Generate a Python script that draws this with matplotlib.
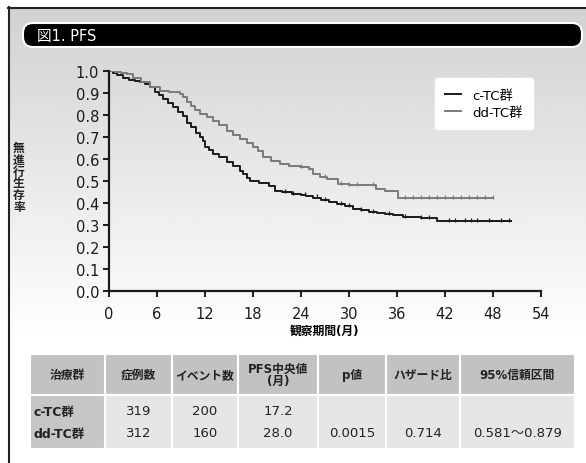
import numpy as np
import matplotlib.pyplot as plt
from matplotlib.patches import FancyBboxPatch, Rectangle

plt.rcParams['font.family'] = ['DejaVu Sans', 'Noto Sans CJK JP']

# c-TC群 (time in months, PFS rate)
c_time = [0, 0.5, 1, 1.8, 2.5, 3.2, 3.9, 4.5, 5.1, 5.7, 6.3, 6.8, 7.4, 8.0, 8.6, 9.3,
          9.7, 10.2, 10.9, 11.4, 11.8, 12.0, 12.5, 13.0, 13.8, 14.7, 15.5, 16.4, 16.8,
          17.2, 17.6, 18.8, 20.0, 20.8, 21.6, 22.9, 24.0, 24.6, 25.5, 26.5, 27.5, 28.5,
          29.5, 30.5, 31.5, 32.5, 33.5, 34.5, 35.5, 36.8, 39.0, 41.0, 50.3]
c_surv = [1.0, 0.99, 0.98, 0.97, 0.96, 0.955, 0.948, 0.94, 0.926, 0.903, 0.89, 0.873,
          0.855, 0.835, 0.815, 0.797, 0.765, 0.745, 0.72, 0.70, 0.683, 0.653, 0.64, 0.623,
          0.61, 0.585, 0.567, 0.547, 0.53, 0.515, 0.50, 0.49, 0.479, 0.456, 0.45, 0.441,
          0.435, 0.433, 0.425, 0.415, 0.405, 0.395, 0.385, 0.375, 0.368, 0.36, 0.355,
          0.35, 0.345, 0.336, 0.33, 0.317, 0.317]
c_cens = [22, 23, 24.5, 26, 27, 29, 30, 31.5, 33, 35, 37, 39, 40, 42.5, 43.2, 44.5,
          45.2, 46, 47.5, 49, 50]

# dd-TC群
d_time = [0, 0.8, 1.5, 2.2, 3.0, 4.0, 5.1, 6.4, 7.5, 8.9, 9.3, 9.7, 10.3, 10.8, 11.4,
          12.2, 13.0, 13.8, 14.7, 15.5, 16.4, 17.2, 18.0, 18.6, 19.3, 20.3, 21.4, 22.5,
          23.9, 25.0, 25.5, 26.4, 27.2, 28.6, 30.0, 32.6, 33.4, 34.5, 36.1, 48.0]
d_surv = [1.0, 0.995, 0.99, 0.985, 0.97, 0.95, 0.926, 0.91, 0.905, 0.895, 0.88, 0.858,
          0.84, 0.825, 0.805, 0.79, 0.774, 0.755, 0.729, 0.71, 0.69, 0.675, 0.655, 0.635,
          0.61, 0.59, 0.577, 0.57, 0.564, 0.555, 0.53, 0.518, 0.51, 0.486, 0.483, 0.48,
          0.464, 0.455, 0.423, 0.423]
d_cens = [24, 25, 27, 29, 30, 31, 33, 37, 38, 39, 40, 41, 42, 43, 44, 45, 46, 47, 48]

x_ticks = [0, 6, 12, 18, 24, 30, 36, 42, 48, 54]
y_ticks = [0.0, 0.1, 0.2, 0.3, 0.4, 0.5, 0.6, 0.7, 0.8, 0.9, 1.0]

# table
col_headers = ['治療群', '症例数', 'イベント数', 'PFS中央値\n(月)', 'p値', 'ハザード比', '95%信頼区間']
row_ctc = ['c-TC群', '319', '200', '17.2', '', '', '']
row_ddtc = ['dd-TC群', '312', '160', '28.0', '0.0015', '0.714', '0.581〜0.879']
col_edges = [30, 105, 172, 238, 318, 386, 460, 575]

W, H = 586, 464
INK = '#1a1a1a'
fig = plt.figure(figsize=(W / 100, H / 100), dpi=100)

# background / decoration layer in pixel coordinates
bg = fig.add_axes([0, 0, 1, 1])
bg.set_xlim(0, W)
bg.set_ylim(H, 0)
bg.axis('off')
grad = np.concatenate([np.linspace(0.82, 1.0, 200), np.ones(40)])
bg.imshow(grad[:, None], cmap='gray', vmin=0, vmax=1, aspect='auto',
          extent=[8, W, 8 + 240 * 330 / 200, 8], zorder=0)
bg.add_patch(Rectangle((8, 338), W, H, color='white', zorder=0.5))
bg.plot([8.5, 8.5], [8, H], color='#222222', lw=1.5, zorder=1)
bg.plot([8, W], [8.5, 8.5], color='#222222', lw=1.5, zorder=1)

title_bar = FancyBboxPatch((23, 24), 559, 24, boxstyle='round,pad=0,rounding_size=10',
                           facecolor='black', edgecolor='white', lw=1.5, zorder=2)
bg.add_patch(title_bar)
bg.text(37, 36.5, '図1. PFS', color='white', fontsize=10.5, va='center', ha='left', zorder=3)

# y label stacked vertically
bg.text(19, 178, '無\n進\n行\n生\n存\n率', fontsize=8.5, fontweight='bold', ha='center',
        va='center', linespacing=0.9, color='#222222')

# table
header_top, header_bot, row_bot = 355, 396, 450
for i in range(len(col_headers)):
    x0, x1 = col_edges[i], col_edges[i + 1]
    bg.add_patch(Rectangle((x0, header_top), x1 - x0, header_bot - header_top,
                           facecolor='#c2c2c2', edgecolor='white', lw=1.5, zorder=2))
    fc = '#c6c6c6' if i == 0 else '#e6e6e6'
    bg.add_patch(Rectangle((x0, header_bot), x1 - x0, row_bot - header_bot,
                           facecolor=fc, edgecolor='white', lw=1.5, zorder=2))
    xc = (x0 + x1) / 2
    bg.text(xc, 375.5, col_headers[i], fontsize=8.5, fontweight='bold', ha='center',
            va='center', linespacing=0.95, color='#222222', zorder=3)
    if i == 0:
        bg.text(x0 + 4, 412, row_ctc[i], fontsize=9, fontweight='bold', ha='left',
                va='center', color='#222222', zorder=3)
        bg.text(x0 + 4, 434, row_ddtc[i], fontsize=9, fontweight='bold', ha='left',
                va='center', color='#222222', zorder=3)
    else:
        bg.text(xc, 412, row_ctc[i], fontsize=9.5, ha='center', va='center',
                color='#222222', zorder=3)
        bg.text(xc, 434, row_ddtc[i], fontsize=9.5, ha='center', va='center',
                color='#222222', zorder=3)

# main KM plot
ax = fig.add_axes([109 / W, 1 - 292 / H, 432 / W, 220 / H])
ax.patch.set_alpha(0)
ax.step(c_time, c_surv, where='post', color=INK, lw=1.4, label='c-TC群')
ax.step(d_time, d_surv, where='post', color='#7a7a7a', lw=1.4, label='dd-TC群')


def surv_at(times, surv, t):
    idx = np.searchsorted(times, t, side='right') - 1
    return np.array(surv)[idx]


ax.plot(c_cens, surv_at(c_time, c_surv, c_cens) + 0.005, linestyle='none', marker='|',
        markersize=3, mew=0.9, color=INK)
ax.plot(d_cens, surv_at(d_time, d_surv, d_cens) + 0.005, linestyle='none', marker='|',
        markersize=3, mew=0.9, color='#7a7a7a')

ax.set_xlim(0, 54)
ax.set_ylim(0, 1.0)
ax.set_xticks(x_ticks)
ax.set_yticks(y_ticks)
ax.set_yticklabels([f'{v:.1f}' for v in y_ticks])
for side in ['top', 'right']:
    ax.spines[side].set_visible(False)
for side in ['left', 'bottom']:
    ax.spines[side].set_linewidth(1.6)
    ax.spines[side].set_color(INK)
ax.tick_params(axis='both', length=4, width=1.4, color=INK, labelsize=10.5,
               labelcolor=INK)
ax.tick_params(axis='x', pad=7)
ax.tick_params(axis='y', pad=3)
ax.set_xlabel('観察期間(月)', fontsize=8.5, fontweight='bold', labelpad=2)

leg = ax.legend(loc='upper right', bbox_to_anchor=(0.99, 0.985), fontsize=9.5,
                frameon=True, fancybox=True, handlelength=1.2, borderpad=0.8,
                labelspacing=0.3, edgecolor='white', framealpha=1.0,
                borderaxespad=0.3)

fig.savefig('out.png', dpi=100)
